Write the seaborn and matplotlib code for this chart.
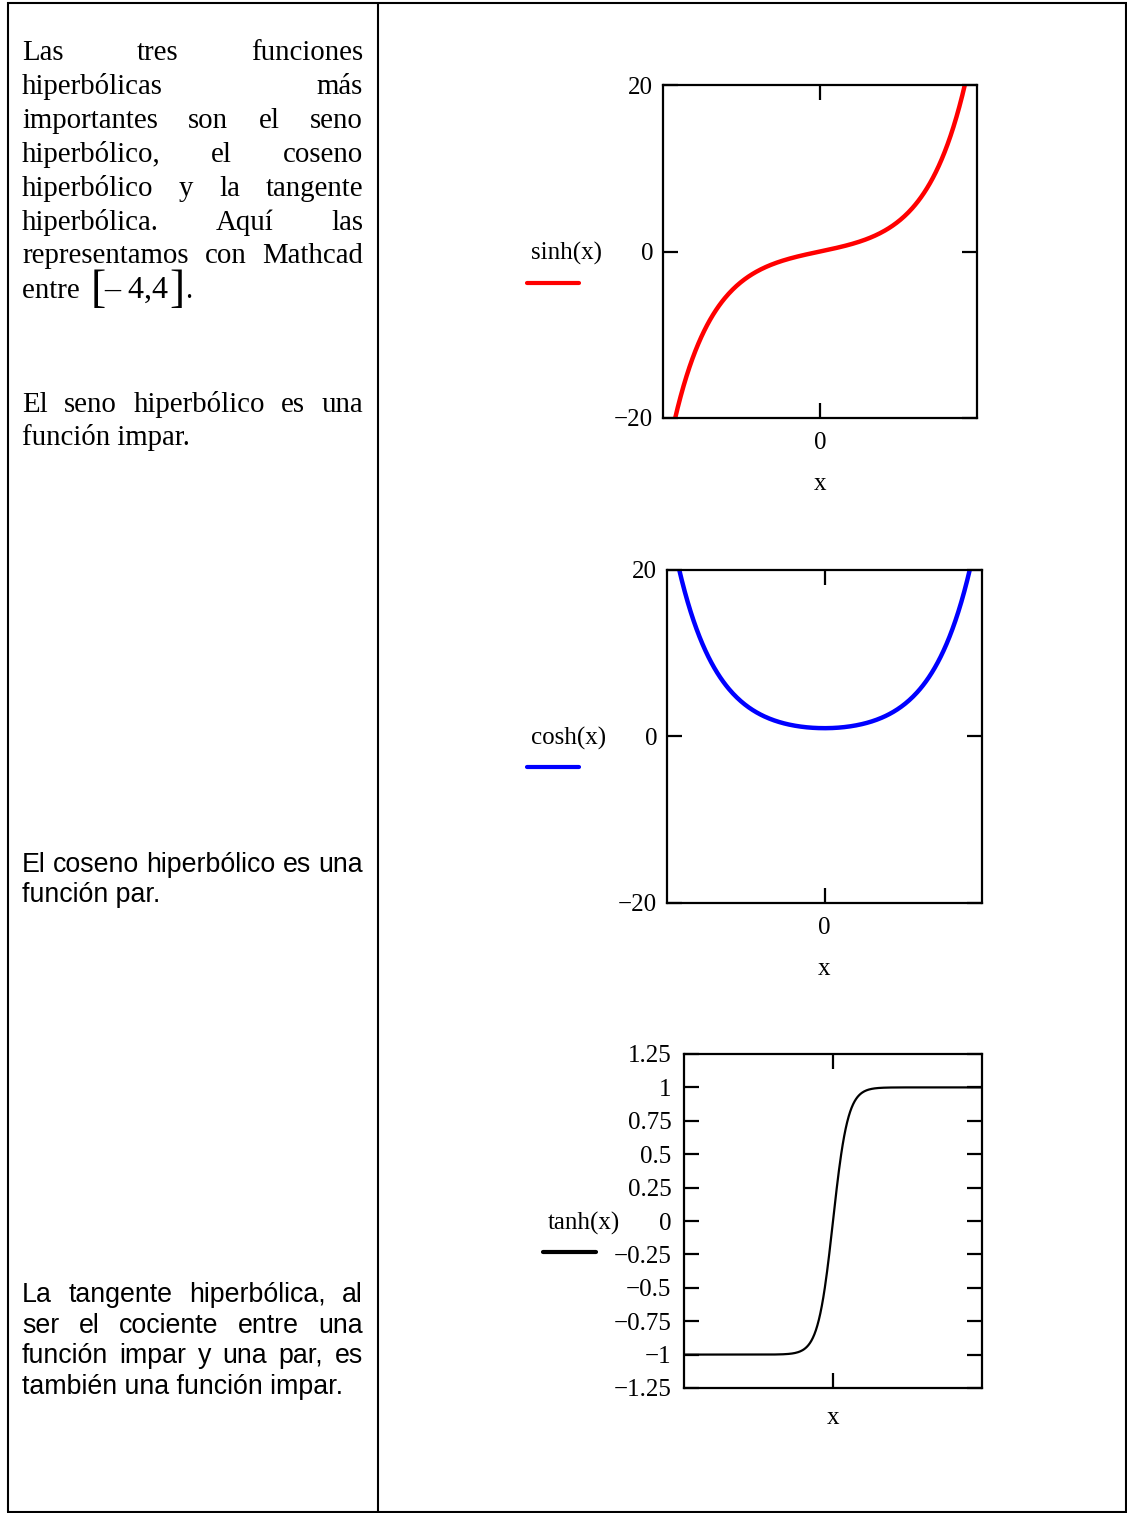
import numpy as np
import pandas as pd
import matplotlib
matplotlib.use("Agg")
import matplotlib.pyplot as plt
from matplotlib.lines import Line2D
import seaborn as sns

# ---------------- data ----------------
x_sinh = np.linspace(-4, 4, 321)          # plotted interval [-4, 4]
y_sinh = np.sinh(x_sinh)
x_cosh = np.linspace(-4, 4, 321)
y_cosh = np.cosh(x_cosh)
x_tanh = np.linspace(-10, 10, 401)        # Mathcad default range
y_tanh = np.tanh(x_tanh)

sc_yticks = [-20, 0, 20]
sc_yticklabels = ["\u221220", "0", "20"]
tanh_yticks = [-1.25, -1, -0.75, -0.5, -0.25, 0, 0.25, 0.5, 0.75, 1, 1.25]
tanh_yticklabels = ["\u22121.25", "\u22121", "\u22120.75", "\u22120.5", "\u22120.25",
                    "0", "0.25", "0.5", "0.75", "1", "1.25"]
legend_labels = ["sinh(x)", "cosh(x)", "tanh(x)"]
colors = ["#ff0000", "#0000ff", "#000000"]

para1 = [["Las", "tres", "funciones"],
         ["hiperbólicas", "más"],
         ["importantes", "son", "el", "seno"],
         ["hiperbólico,", "el", "coseno"],
         ["hiperbólico", "y", "la", "tangente"],
         ["hiperbólica.", "Aquí", "las"],
         ["representamos", "con", "Mathcad"]]
para2 = [["El", "seno", "hiperbólico", "es", "una"]]
para2_last = "función impar."
para3_first = "El coseno hiperbólico es una"
para3_last = "función par."
para4 = [["La", "tangente", "hiperbólica,", "al"],
         ["ser", "el", "cociente", "entre", "una"],
         ["función", "impar", "y", "una", "par,", "es"]]
para4_last = "también una función impar."

# ---------------- figure ----------------
sns.set_style("white")
plt.rcParams["font.family"] = ["Liberation Serif", "DejaVu Serif"]
plt.rcParams["axes.unicode_minus"] = True
plt.rcParams["text.color"] = "black"
plt.rcParams["axes.labelcolor"] = "black"
plt.rcParams["xtick.color"] = "black"
plt.rcParams["ytick.color"] = "black"

W, H = 1127, 1513
DPI = 100
fig = plt.figure(figsize=(W / DPI, H / DPI), dpi=DPI)
fig.patch.set_facecolor("white")
renderer = fig.canvas.get_renderer()


def fx(px):
    return px / W


def fy(py):
    return 1 - py / H


def hline(x0, x1, y, lw=1.5, color="black"):
    fig.add_artist(Line2D([fx(x0), fx(x1)], [fy(y), fy(y)], lw=lw, color=color,
                          transform=fig.transFigure, solid_capstyle="butt"))


def vline(x, y0, y1, lw=1.5, color="black"):
    fig.add_artist(Line2D([fx(x), fx(x)], [fy(y0), fy(y1)], lw=lw, color=color,
                          transform=fig.transFigure, solid_capstyle="butt"))


# table borders
hline(7, 1127, 2.5)
hline(7, 1127, 1511.5)
vline(7.5, 2, 1512)
vline(1126, 2, 1512)
vline(378, 2, 1512)

SERIF = ["Liberation Serif", "DejaVu Serif"]
SANS = ["Liberation Sans", "DejaVu Sans"]
SERIF_SIZE = 20.8
SANS_SIZE = 19.3
X0, X1 = 22, 363


def text_width(t):
    return t.get_window_extent(renderer=renderer).width


def justify(words, y, family, size):
    texts = [fig.text(0, fy(y), w, family=family, fontsize=size, va="baseline",
                      ha="left", color="black") for w in words]
    widths = [text_width(t) for t in texts]
    gap = (X1 - X0 - sum(widths)) / (len(words) - 1)
    x = X0
    for t, w in zip(texts, widths):
        t.set_x(fx(x))
        x += w + gap


def left_line(s, y, family, size, x=X0):
    return fig.text(fx(x), fy(y), s, family=family, fontsize=size, va="baseline",
                    ha="left", color="black")


# paragraph 1 (serif, justified)
base = 60.5
step = 33.8
for i, words in enumerate(para1):
    justify(words, base + i * step, SERIF, SERIF_SIZE)

# last line "entre [– 4,4]."
y_last = 298
pieces = [("entre ", SERIF_SIZE, 0, 4), ("[", 33, 4, -2), ("\u2013 4,4", 23, 0, 1),
          ("]", 33, 4, 1), (".", SERIF_SIZE, 0, 0)]
xc = X0
for s, sz, dy, extra in pieces:
    t = left_line(s, y_last + dy, SERIF, sz, x=xc)
    xc += text_width(t) + extra

# paragraph 2
justify(para2[0], 411.5, SERIF, SERIF_SIZE)
left_line(para2_last, 445, SERIF, SERIF_SIZE)

# paragraph 3 (sans)
justify(para3_first.split(), 872, SANS, SANS_SIZE)
left_line(para3_last, 902.5, SANS, SANS_SIZE)

# paragraph 4 (sans)
for i, words in enumerate(para4):
    justify(words, 1302.5 + i * 30.4, SANS, SANS_SIZE)
left_line(para4_last, 1302.5 + 3 * 30.4, SANS, SANS_SIZE)


# ---------------- plots ----------------
TICK_SIZE = 18


def make_ax(l, t, r, b):
    ax = fig.add_axes([fx(l), fy(b), (r - l) / W, (b - t) / H])
    for sp in ax.spines.values():
        sp.set_visible(True)
        sp.set_linewidth(1.6)
        sp.set_color("black")
    ax.tick_params(which="both", direction="in", length=11, width=1.6,
                   left=True, right=True, top=True, bottom=True,
                   labelleft=True, labelbottom=True, labelright=False, labeltop=False,
                   colors="black", labelsize=TICK_SIZE)
    ax.tick_params(axis="y", pad=7)
    ax.tick_params(axis="x", pad=10)
    ax.grid(False)
    return ax


def legend_entry(label, color, tx, ty, lx0, lx1, ly, lw):
    fig.text(fx(tx), fy(ty), label, family=SERIF, fontsize=TICK_SIZE,
             va="baseline", ha="left", color="black")
    fig.add_artist(Line2D([fx(lx0), fx(lx1)], [fy(ly), fy(ly)], lw=lw, color=color,
                          transform=fig.transFigure, solid_capstyle="round"))


# sinh
ax1 = make_ax(663, 85, 977, 418)
sns.lineplot(x=x_sinh, y=y_sinh, ax=ax1, color=colors[0], linewidth=3.2, estimator=None)
ax1.set_xlim(-4, 4)
ax1.set_ylim(-20, 20)
ax1.set_yticks(sc_yticks)
ax1.set_yticklabels(sc_yticklabels)
ax1.set_xticks([0])
ax1.set_xticklabels(["0"])
ax1.set_xlabel("x", fontsize=TICK_SIZE, labelpad=14)
ax1.set_ylabel("")
legend_entry(legend_labels[0], colors[0], 531, 260, 527, 579, 283, 3.0)

# cosh
ax2 = make_ax(667, 570, 982, 903)
sns.lineplot(x=x_cosh, y=y_cosh, ax=ax2, color=colors[1], linewidth=3.2, estimator=None)
ax2.set_xlim(-4, 4)
ax2.set_ylim(-20, 20)
ax2.set_yticks(sc_yticks)
ax2.set_yticklabels(sc_yticklabels)
ax2.set_xticks([0])
ax2.set_xticklabels(["0"])
ax2.set_xlabel("x", fontsize=TICK_SIZE, labelpad=14)
ax2.set_ylabel("")
legend_entry(legend_labels[1], colors[1], 531, 745, 527, 579, 767, 3.0)

# tanh
ax3 = make_ax(684, 1054, 982, 1388)
sns.lineplot(x=x_tanh, y=y_tanh, ax=ax3, color=colors[2], linewidth=1.6, estimator=None)
ax3.set_xlim(-10, 10)
ax3.set_ylim(-1.25, 1.25)
ax3.set_yticks(tanh_yticks)
ax3.set_yticklabels(tanh_yticklabels)
ax3.set_xticks([0])
ax3.set_xticklabels([""])
ax3.tick_params(axis="y", pad=9)
ax3.set_xlabel("x", fontsize=TICK_SIZE, labelpad=4)
ax3.set_ylabel("")
legend_entry(legend_labels[2], colors[2], 548, 1230, 543, 596, 1252, 3.0)

for ax in (ax1, ax2, ax3):
    for lab in ax.get_xticklabels() + ax.get_yticklabels():
        lab.set_family(SERIF)
    ax.xaxis.label.set_family(SERIF)

fig.savefig("out.png", dpi=DPI, facecolor="white")
